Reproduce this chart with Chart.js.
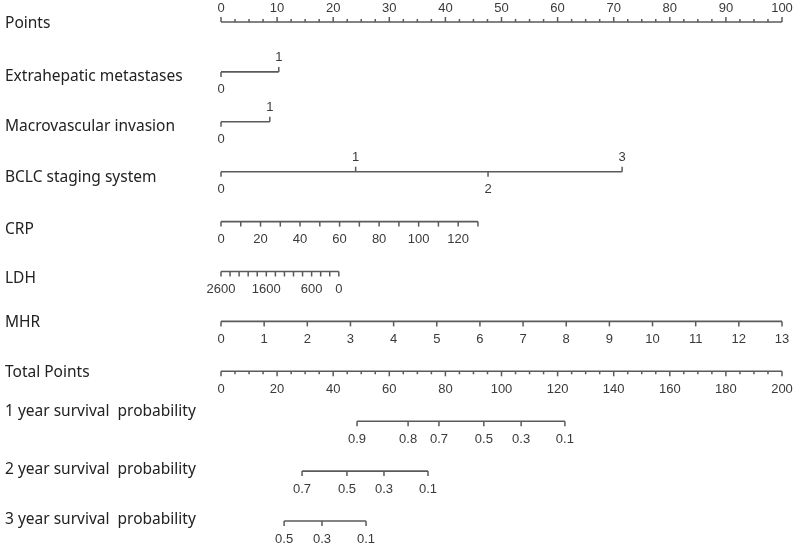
<!DOCTYPE html>
<html>
<head>
<meta charset="utf-8">
<script src="https://cdn.jsdelivr.net/npm/chart.js@4.4.1/dist/chart.umd.min.js"></script>
<style>
    html, body { margin: 0; background: #fff; }
</style>
</head>
<body>
<canvas id="nomograma" width="800" height="550"></canvas>
<script>
// nomes das linhas
const rowNames = ['Points', 'Extrahepatic metastases', 'Macrovascular invasion', 'BCLC staging system',
    'CRP', 'LDH', 'MHR', 'Total Points',
    '1 year survival  probability', '2 year survival  probability', '3 year survival  probability']

// escala de pontos
const pointsLabels = [0, 10, 20, 30, 40, 50, 60, 70, 80, 90, 100]
const pointsMinorStep = 2.5

// variaveis categoricas: valor -> pontos
const extraValues = [0, 1]
const extraPoints = [0, 10.3]
const macroValues = [0, 1]
const macroPoints = [0, 8.7]
const bclcValues = [0, 1, 2, 3]
const bclcPoints = [0, 24, 47.6, 71.5]

// CRP (0 a 130 -> 0 a 45.8 pontos)
const crpTicks = [0, 10, 20, 30, 40, 50, 60, 70, 80, 90, 100, 110, 120, 130]
const crpLabels = [0, 20, 40, 60, 80, 100, 120]
const crpRange = [0, 130]
const crpPointsRange = [0, 45.8]

// LDH (2600 -> 0 pontos, 0 -> 21 pontos)
const ldhTicks = [2600, 2400, 2200, 2000, 1800, 1600, 1400, 1200, 1000, 800, 600, 400, 200, 0]
const ldhLabels = [2600, 1600, 600, 0]
const ldhRange = [2600, 0]
const ldhPointsRange = [0, 21]

// MHR (0 a 13 -> 0 a 100 pontos)
const mhrTicks = [0, 1, 2, 3, 4, 5, 6, 7, 8, 9, 10, 11, 12, 13]
const mhrRange = [0, 13]
const mhrPointsRange = [0, 100]

// total de pontos
const totalLabels = [0, 20, 40, 60, 80, 100, 120, 140, 160, 180, 200]
const totalMinorStep = 5

// sobrevida: probabilidade -> total de pontos
const surv1Values = [0.9, 0.8, 0.7, 0.5, 0.3, 0.1]
const surv1Total = [48.5, 66.7, 77.7, 93.7, 107, 122.6]
const surv2Values = [0.7, 0.5, 0.3, 0.1]
const surv2Total = [28.9, 44.9, 58.1, 73.8]
const surv3Values = [0.5, 0.3, 0.1]
const surv3Total = [22.5, 36, 51.7]

// deslocamento vertical dos nomes (layout)
const nameOffset = [2, 5, 5, 6, 8, 7, 1, 1, -10, -2, -1]

function mapear(v, r, p) {
    return p[0] + (v - r[0]) * (p[1] - p[0]) / (r[1] - r[0])
}

function eixoContinuo(ticks, labels, r, p, fmt) {
    return ticks.map(v => ({ pos: mapear(v, r, p), major: true, up: false, label: labels.includes(v) ? fmt(v) : null }))
}

function eixoCategorico(values, pts, ups) {
    return values.map((v, i) => ({ pos: pts[i], major: true, up: ups[i], label: String(v) }))
}

function eixoComMenores(labels, step, up) {
    let lista = []
    const max = labels[labels.length - 1]
    for (let v = labels[0]; v <= max + 1e-9; v += step) {
        const ehLabel = labels.some(l => Math.abs(l - v) < 1e-9)
        lista.push({ pos: v, major: ehLabel, up: up, label: ehLabel ? String(Math.round(v)) : null })
    }
    return lista
}

function eixoSobrevida(values, totals) {
    return values.map((v, i) => ({ pos: totals[i], major: true, up: false, label: v.toFixed(1) }))
}

const rows = [
    { axis: 'x', ticks: eixoComMenores(pointsLabels, pointsMinorStep, true) },
    { axis: 'x', ticks: eixoCategorico(extraValues, extraPoints, [false, true]) },
    { axis: 'x', ticks: eixoCategorico(macroValues, macroPoints, [false, true]) },
    { axis: 'x', ticks: eixoCategorico(bclcValues, bclcPoints, [false, true, false, true]) },
    { axis: 'x', ticks: eixoContinuo(crpTicks, crpLabels, crpRange, crpPointsRange, String) },
    { axis: 'x', ticks: eixoContinuo(ldhTicks, ldhLabels, ldhRange, ldhPointsRange, String) },
    { axis: 'x', ticks: eixoContinuo(mhrTicks, mhrTicks, mhrRange, mhrPointsRange, String) },
    { axis: 'xt', ticks: eixoComMenores(totalLabels, totalMinorStep, false) },
    { axis: 'xt', ticks: eixoSobrevida(surv1Values, surv1Total) },
    { axis: 'xt', ticks: eixoSobrevida(surv2Values, surv2Total) },
    { axis: 'xt', ticks: eixoSobrevida(surv3Values, surv3Total) },
]

const corLinha = '#5a5a5a'
const corTexto = '#3a3a3a'

const datasets = rows.map((row, i) => {
    const pos = row.ticks.map(t => t.pos)
    return {
        data: [{ x: Math.min(...pos), y: i }, { x: Math.max(...pos), y: i }],
        xAxisID: row.axis,
        showLine: true,
        borderColor: corLinha,
        borderWidth: 1.6,
        pointRadius: 0,
        clip: false
    }
})

const pluginNomograma = {
    id: 'nomograma',
    afterDatasetsDraw(chart) {
        const ctx = chart.ctx
        const y = chart.scales.y
        ctx.save()
        ctx.strokeStyle = corLinha
        ctx.lineWidth = 1.5
        ctx.fillStyle = corTexto
        ctx.font = '13px "Liberation Sans", Arial, sans-serif'
        ctx.textAlign = 'center'
        ctx.textBaseline = 'middle'
        rows.forEach((row, i) => {
            const sc = chart.scales[row.axis]
            const py = y.getPixelForValue(i)
            row.ticks.forEach(t => {
                const px = sc.getPixelForValue(t.pos)
                const dir = t.up ? -1 : 1
                const len = t.major ? 5 : 3
                ctx.beginPath()
                ctx.moveTo(px, py)
                ctx.lineTo(px, py + dir * len)
                ctx.stroke()
                if (t.label !== null) {
                    ctx.fillText(t.label, px, py + (t.up ? -14 : 18))
                }
            })
        })
        // nomes das variaveis
        ctx.font = '15.5px "Noto Sans", "Open Sans", sans-serif'
        ctx.fillStyle = '#222'
        ctx.textAlign = 'left'
        rowNames.forEach((nome, i) => {
            ctx.fillText(nome, 5, y.getPixelForValue(i) + nameOffset[i])
        })
        ctx.restore()
    }
}

const grafico = new Chart(document.getElementById('nomograma'), {
    type: 'scatter',
    data: { datasets: datasets },
    options: {
        responsive: false,
        animation: false,
        layout: { padding: { left: 221, right: 18, top: 22, bottom: 29 } },
        plugins: { legend: { display: false }, tooltip: { enabled: false } },
        scales: {
            x: { type: 'linear', min: 0, max: 100, display: false },
            xt: { type: 'linear', axis: 'x', min: 0, max: 200, display: false },
            y: { type: 'linear', min: 0, max: 10, reverse: true, display: false }
        }
    },
    plugins: [pluginNomograma]
})
</script>
</body>
</html>
